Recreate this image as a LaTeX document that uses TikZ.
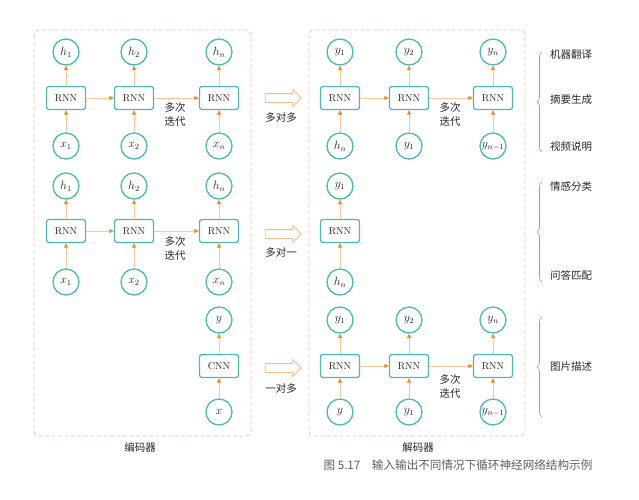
\documentclass[tikz,border=0pt]{standalone}
\usepackage{fontspec}
\newfontfamily\cjk{Noto Sans CJK SC}
\usetikzlibrary{arrows.meta,shapes.arrows,decorations.pathreplacing,positioning}
\definecolor{cyc}{HTML}{4DB8B8}
\definecolor{pinkline}{HTML}{F5B8C4}
\definecolor{lineor}{HTML}{F9C89B}
\definecolor{tipor}{HTML}{F08A24}
\definecolor{hollowor}{HTML}{F7B98E}
\definecolor{txt}{HTML}{262626}
\definecolor{capgray}{HTML}{5E5E5E}

\begin{document}
\begin{tikzpicture}[x=1pt,y=-1pt,
	unit/.style={draw=cyc,line width=1.3pt,circle,minimum size=26pt,inner sep=0pt,fill=white,text=txt,font=\fontsize{11.5}{13}\selectfont},
	cell/.style={draw=cyc,line width=1.3pt,rounded corners=2.5pt,minimum width=39pt,minimum height=23pt,inner sep=0pt,fill=white,text=txt},
	flow/.style={draw=lineor,line width=0.8pt,-{Triangle[length=4.5pt,width=4pt,color=tipor]}},
	hollow/.style={single arrow,draw=hollowor,line width=0.9pt,minimum height=36pt,inner sep=4pt,single arrow head extend=4pt,fill=white},
	tag/.style={font=\cjk\fontsize{10.5}{14}\selectfont,text=txt,align=center,inner sep=1pt},
	brc/.style={draw=cyc,line width=0.6pt,decorate,decoration={brace,amplitude=5pt}},
	box/.style={draw=pinkline,line width=0.8pt,dash pattern=on 4pt off 2.5pt,rounded corners=5pt}]
	\useasboundingbox (0,0) rectangle (639,499);
	% encoder / decoder frames
	\draw[box] (34,30) rectangle (251,436);
	\draw[box] (309,30) rectangle (525,436);
	\node[tag] (enc) at (140,447) {编码器};
	\node[tag] (dec) at (418,448) {解码器};
	\node[tag,text=capgray,font=\cjk\fontsize{11.6}{14}\selectfont] (cap) at (458,465) {图 5.17\quad 输入输出不同情况下循环神经网络结构示例};
	% encoder, row 1
	\node[unit] (ah1) at (66,52) {$h_1$};
	\node[unit] (ah2) at (134,52) {$h_2$};
	\node[unit] (ahn) at (219,52) {$h_n$};
	\node[cell] (ar1) at (66,98) {RNN};
	\node[cell] (ar2) at (134,98) {RNN};
	\node[cell] (ar3) at (219,98) {RNN};
	\node[unit] (ax1) at (66,146) {$x_1$};
	\node[unit] (ax2) at (134,146) {$x_2$};
	\node[unit] (axn) at (219,146) {$x_n$};
	\node[tag] (ait) at (175,115) {多次\\迭代};
	% encoder, row 2
	\node[unit] (bh1) at (66,186) {$h_1$};
	\node[unit] (bh2) at (134,186) {$h_2$};
	\node[unit] (bhn) at (219,186) {$h_n$};
	\node[cell] (br1) at (66,231) {RNN};
	\node[cell] (br2) at (134,231) {RNN};
	\node[cell] (br3) at (219,231) {RNN};
	\node[unit] (bx1) at (66,282) {$x_1$};
	\node[unit] (bx2) at (134,282) {$x_2$};
	\node[unit] (bxn) at (219,282) {$x_n$};
	\node[tag] (bit) at (175,249) {多次\\迭代};
	% encoder, row 3
	\node[unit] (cy) at (219,320) {$y$};
	\node[cell] (cc) at (219,366) {CNN};
	\node[unit] (cx) at (219,412) {$x$};
	% decoder, row 1
	\node[unit] (dy1) at (340,52) {$y_1$};
	\node[unit] (dy2) at (409,52) {$y_2$};
	\node[unit] (dyn) at (493,52) {$y_n$};
	\node[cell] (dr1) at (340,98) {RNN};
	\node[cell] (dr2) at (409,98) {RNN};
	\node[cell] (dr3) at (493,98) {RNN};
	\node[unit] (dhn) at (340,146) {$h_n$};
	\node[unit] (din2) at (409,146) {$y_1$};
	\node[unit] (din3) at (493,146) {$y_{n-1}$};
	\node[tag] (dit) at (450,115) {多次\\迭代};
	% decoder, row 2
	\node[unit] (ey1) at (340,186) {$y_1$};
	\node[cell] (er1) at (340,231) {RNN};
	\node[unit] (ehn) at (340,282) {$h_n$};
	% decoder, row 3
	\node[unit] (fy1) at (340,320) {$y_1$};
	\node[unit] (fy2) at (409,320) {$y_2$};
	\node[unit] (fyn) at (493,320) {$y_n$};
	\node[cell] (fr1) at (340,366) {RNN};
	\node[cell] (fr2) at (409,366) {RNN};
	\node[cell] (fr3) at (493,366) {RNN};
	\node[unit] (fin1) at (340,412) {$y$};
	\node[unit] (fin2) at (409,412) {$y_1$};
	\node[unit] (fin3) at (493,412) {$y_{n-1}$};
	\node[tag] (fit) at (450,386) {多次\\迭代};
	% connectors
	\draw[flow] (ax1) -- (ar1);
	\draw[flow] (ax2) -- (ar2);
	\draw[flow] (axn) -- (ar3);
	\draw[flow] (ar1) -- (ah1);
	\draw[flow] (ar2) -- (ah2);
	\draw[flow] (ar3) -- (ahn);
	\draw[flow] (ar1) -- (ar2);
	\draw[flow] (ar2) -- (ar3);
	\draw[flow] (bx1) -- (br1);
	\draw[flow] (bx2) -- (br2);
	\draw[flow] (bxn) -- (br3);
	\draw[flow] (br1) -- (bh1);
	\draw[flow] (br2) -- (bh2);
	\draw[flow] (br3) -- (bhn);
	\draw[flow] (br1) -- (br2);
	\draw[flow] (br2) -- (br3);
	\draw[flow] (cx) -- (cc);
	\draw[flow] (cc) -- (cy);
	\draw[flow] (dhn) -- (dr1);
	\draw[flow] (din2) -- (dr2);
	\draw[flow] (din3) -- (dr3);
	\draw[flow] (dr1) -- (dy1);
	\draw[flow] (dr2) -- (dy2);
	\draw[flow] (dr3) -- (dyn);
	\draw[flow] (dr1) -- (dr2);
	\draw[flow] (dr2) -- (dr3);
	\draw[flow] (ehn) -- (er1);
	\draw[flow] (er1) -- (ey1);
	\draw[flow] (fin1) -- (fr1);
	\draw[flow] (fin2) -- (fr2);
	\draw[flow] (fin3) -- (fr3);
	\draw[flow] (fr1) -- (fy1);
	\draw[flow] (fr2) -- (fy2);
	\draw[flow] (fr3) -- (fyn);
	\draw[flow] (fr1) -- (fr2);
	\draw[flow] (fr2) -- (fr3);
	% hollow arrows
	\node[hollow] (m1) at (281,98) {};
	\node[tag] (m1t) at (281,118) {多对多};
	\node[hollow] (m2) at (281,234) {};
	\node[tag] (m2t) at (281,253) {多对一};
	\node[hollow] (m3) at (281,368) {};
	\node[tag] (m3t) at (281,388) {一对多};
	% applications
	\coordinate (b1a) at (542,152);
	\coordinate (b1b) at (542,52);
	\coordinate (b2a) at (542,282);
	\coordinate (b2b) at (542,182);
	\coordinate (b3a) at (542,417);
	\coordinate (b3b) at (542,317);
	\draw[brc] (b1a) -- (b1b);
	\draw[brc] (b2a) -- (b2b);
	\draw[brc] (b3a) -- (b3b);
	\node[tag,anchor=west] (u1) at (549,55) {机器翻译};
	\node[tag,anchor=west] (u2) at (549,99) {摘要生成};
	\node[tag,anchor=west] (u3) at (549,147) {视频说明};
	\node[tag,anchor=west] (u4) at (549,187) {情感分类};
	\node[tag,anchor=west] (u5) at (549,275) {问答匹配};
	\node[tag,anchor=west] (u6) at (549,367) {图片描述};
\end{tikzpicture}
\end{document}
